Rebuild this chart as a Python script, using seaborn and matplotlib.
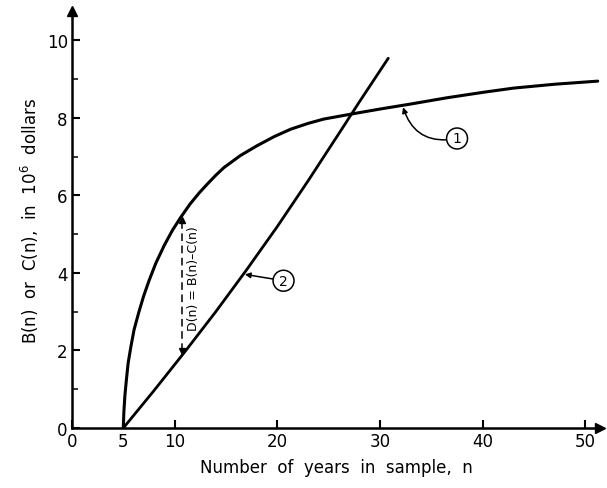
import numpy as np
import pandas as pd
import matplotlib
matplotlib.use("Agg")
import matplotlib.pyplot as plt
import seaborn as sns

# Benefit curve B(n) (curve 1)
n_b = [5.0, 5.05, 5.15, 5.3, 5.47, 5.75, 6.05, 6.5, 6.96, 7.5, 8.16, 9.0,
       9.78, 10.6, 11.5, 12.4, 13.2, 14.0, 14.8, 16.4, 18.0, 19.7, 21.3,
       23.0, 24.5, 27.4, 30.0, 33.0, 36.5, 40.0, 43.0, 47.0, 51.2]
b_vals = [0.0, 0.4, 0.83, 1.25, 1.68, 2.12, 2.54, 2.98, 3.39, 3.8, 4.25, 4.72,
          5.10, 5.44, 5.78, 6.07, 6.30, 6.52, 6.72, 7.03, 7.28, 7.52, 7.71,
          7.86, 7.97, 8.11, 8.23, 8.36, 8.52, 8.66, 8.77, 8.87, 8.95]

# Cost curve C(n) (curve 2)
n_c = [5.0, 8.0, 11.0, 14.0, 17.0, 20.0, 23.0, 26.0, 28.0, 30.8]
c_vals = [0.0, 0.97, 1.97, 3.0, 4.08, 5.2, 6.38, 7.6, 8.42, 9.54]

x_ticks = [0, 5, 10, 20, 30, 40, 50]
y_ticks = [0, 2, 4, 6, 8, 10]
y_minor = [1, 3, 5, 7, 9]

d_at = 10.7  # year where the gap D(n) is marked

sns.set_theme(style="ticks")
plt.rcParams["font.family"] = ["DejaVu Sans"]
plt.rcParams["text.color"] = "black"
plt.rcParams["axes.labelcolor"] = "black"

fig = plt.figure(figsize=(6.07, 4.89), dpi=100)
ax = fig.add_axes([0.1186, 0.1227, 0.8695, 0.852])

df_b = pd.DataFrame({"n": n_b, "v": b_vals})
df_c = pd.DataFrame({"n": n_c, "v": c_vals})
sns.lineplot(data=df_b, x="n", y="v", ax=ax, color="black", lw=2.2,
             sort=False, estimator=None)
sns.lineplot(data=df_c, x="n", y="v", ax=ax, color="black", lw=2.0,
             sort=False, estimator=None)
for ln in ax.lines:
    ln.set_solid_joinstyle("round")

ax.set_xlim(0, 51.4)
ax.set_ylim(0, 10.75)

# axes: only left and bottom spines, ending in arrowheads
for s in ("top", "right"):
    ax.spines[s].set_visible(False)
for s in ("left", "bottom"):
    ax.spines[s].set_linewidth(1.8)
    ax.spines[s].set_color("black")
ax.plot(1, 0, ">", color="black", ms=7, transform=ax.transAxes, clip_on=False)
ax.plot(0, 1, "^", color="black", ms=7, transform=ax.transAxes, clip_on=False)

ax.set_xticks(x_ticks)
ax.set_xticklabels([str(t) for t in x_ticks])
ax.set_yticks(y_ticks)
ax.set_yticklabels([str(t) for t in y_ticks])
ax.set_yticks(y_minor, minor=True)
ax.tick_params(axis="both", which="major", direction="in", length=6, width=1.5,
               labelsize=12, colors="black", pad=3)
ax.tick_params(axis="y", which="minor", direction="in", length=4, width=1.3,
               left=True)

ax.set_xlabel("Number  of  years  in  sample,  n", fontsize=12, labelpad=6)
ax.set_ylabel("B(n)  or  C(n),  in  10$^6$  dollars", fontsize=12, labelpad=4)

# D(n) = B(n) - C(n) dashed double arrow
b_top = np.interp(d_at, n_b, b_vals)
c_bot = np.interp(d_at, n_c, c_vals)
ax.vlines(d_at, c_bot + 0.12, b_top - 0.12, colors="black", linestyles=(0, (5, 3)),
          lw=1.1)
ax.plot(d_at, b_top - 0.12, "^", color="black", ms=4.5)
ax.plot(d_at, c_bot + 0.12, "v", color="black", ms=4.5)
ax.text(d_at + 1.15, (b_top + c_bot) / 2 + 0.2, "D(n) = B(n)\u2013C(n)",
        rotation=90, ha="center", va="center", fontsize=9)

# curve labels
ax.annotate("1", xy=(32.2, 8.31), xytext=(37.5, 7.47), fontsize=10,
            ha="center", va="center",
            bbox=dict(boxstyle="circle,pad=0.25", fc="white", ec="black", lw=1.1),
            arrowprops=dict(arrowstyle="-|>", color="black", lw=1.1,
                            mutation_scale=8, shrinkA=0, shrinkB=1,
                            connectionstyle="arc3,rad=-0.45"))
ax.annotate("2", xy=(16.7, 3.97), xytext=(20.6, 3.8), fontsize=10,
            ha="center", va="center",
            bbox=dict(boxstyle="circle,pad=0.25", fc="white", ec="black", lw=1.1),
            arrowprops=dict(arrowstyle="-|>", color="black", lw=1.1,
                            mutation_scale=8, shrinkA=0, shrinkB=1))

fig.savefig("out.png", dpi=100)
